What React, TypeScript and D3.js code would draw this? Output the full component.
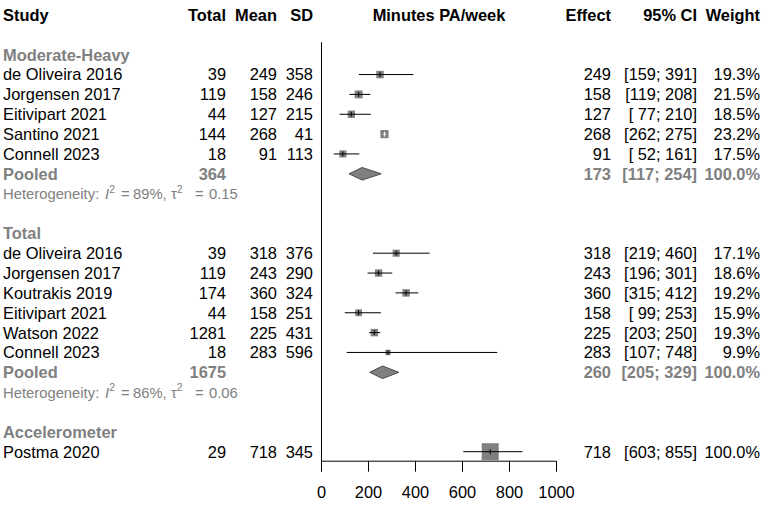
import React from "react";
import * as d3 from "d3";

// ---------- data ----------
const headers = ["Study", "Total", "Mean", "SD", "Minutes PA/week", "Effect", "95% CI", "Weight"];

const groupLabels = ["Moderate-Heavy", "Total", "Accelerometer"];

const mhStudies = ["de Oliveira 2016", "Jorgensen 2017", "Eitivipart 2021", "Santino 2021", "Connell 2023"];
const mhTotal = [39, 119, 44, 144, 18];
const mhMean = [249, 158, 127, 268, 91];
const mhSD = [358, 246, 215, 41, 113];
const mhLower = [159, 119, 77, 262, 52];
const mhUpper = [391, 208, 210, 275, 161];
const mhWeight = [19.3, 21.5, 18.5, 23.2, 17.5];
const mhPooled = { total: 364, effect: 173, lower: 117, upper: 254, weight: 100.0 };
const mhHet = { i2: "89%,", tau2: "0.15" };

const totStudies = ["de Oliveira 2016", "Jorgensen 2017", "Koutrakis 2019", "Eitivipart 2021", "Watson 2022", "Connell 2023"];
const totTotal = [39, 119, 174, 44, 1281, 18];
const totMean = [318, 243, 360, 158, 225, 283];
const totSD = [376, 290, 324, 251, 431, 596];
const totLower = [219, 196, 315, 99, 203, 107];
const totUpper = [460, 301, 412, 253, 250, 748];
const totWeight = [17.1, 18.6, 19.2, 15.9, 19.3, 9.9];
const totPooled = { total: 1675, effect: 260, lower: 205, upper: 329, weight: 100.0 };
const totHet = { i2: "86%,", tau2: "0.06" };

const accStudies = ["Postma 2020"];
const accTotal = [29];
const accMean = [718];
const accSD = [345];
const accLower = [603];
const accUpper = [855];
const accWeight = [100.0];

const xTicks = [0, 200, 400, 600, 800, 1000];

// ---------- layout ----------
const W = 762;
const H = 505;
const FONT = "Arial, 'Liberation Sans', Helvetica, sans-serif";
const FS = 16.4;
const HFS = 14.8;
const GRAY = "#808080";
const rowY = (i: number) => 15 + i * 19.85;
const base = (i: number) => rowY(i) + 5.9;

const x = d3.scaleLinear().domain([0, 1000]).range([321.5, 556.5]);

const colStudy = 3;
const colTotal = 226;
const colMean = 277;
const colSD = 313;
const colEffect = 611;
const colCI = 697;
const colWeight = 760;

const fmtCI = (l: number, u: number) => {
  const pad = (v: number) => (v < 100 ? " " + v : String(v));
  return `[${pad(l)}; ${u}]`;
};

type Study = { name: string; total: number; mean: number; sd: number; lower: number; upper: number; weight: number };

const zipStudies = (n: string[], t: number[], m: number[], s: number[], l: number[], u: number[], w: number[]): Study[] =>
  n.map((name, i) => ({ name, total: t[i], mean: m[i], sd: s[i], lower: l[i], upper: u[i], weight: w[i] }));

const groups = [
  { label: groupLabels[0], studies: zipStudies(mhStudies, mhTotal, mhMean, mhSD, mhLower, mhUpper, mhWeight), pooled: mhPooled, het: mhHet },
  { label: groupLabels[1], studies: zipStudies(totStudies, totTotal, totMean, totSD, totLower, totUpper, totWeight), pooled: totPooled, het: totHet },
  { label: groupLabels[2], studies: zipStudies(accStudies, accTotal, accMean, accSD, accLower, accUpper, accWeight), pooled: null, het: null },
];

const maxSide = 17;

export default function App() {
  const elems: React.ReactNode[] = [];
  let row = 2;
  let key = 0;
  const T = (props: any, txt: React.ReactNode) => (
    <text key={key++} fontFamily={FONT} fontSize={FS} style={{ whiteSpace: "pre" }} {...props}>
      {txt}
    </text>
  );

  // header
  const hb = base(0);
  elems.push(T({ x: colStudy, y: hb, fontWeight: "bold" }, headers[0]));
  elems.push(T({ x: colTotal, y: hb, fontWeight: "bold", textAnchor: "end" }, headers[1]));
  elems.push(T({ x: colMean, y: hb, fontWeight: "bold", textAnchor: "end" }, headers[2]));
  elems.push(T({ x: colSD, y: hb, fontWeight: "bold", textAnchor: "end" }, headers[3]));
  elems.push(T({ x: (x(0) + x(1000)) / 2, y: hb, fontWeight: "bold", textAnchor: "middle" }, headers[4]));
  elems.push(T({ x: colEffect, y: hb, fontWeight: "bold", textAnchor: "end" }, headers[5]));
  elems.push(T({ x: colCI, y: hb, fontWeight: "bold", textAnchor: "end" }, headers[6]));
  elems.push(T({ x: colWeight, y: hb, fontWeight: "bold", textAnchor: "end" }, headers[7]));

  const marks: React.ReactNode[] = [];

  groups.forEach((g) => {
    elems.push(T({ x: colStudy, y: base(row), fontWeight: "bold", fill: GRAY }, g.label));
    row++;
    g.studies.forEach((s) => {
      const b = base(row);
      const cy = rowY(row);
      elems.push(T({ x: colStudy, y: b }, s.name));
      elems.push(T({ x: colTotal, y: b, textAnchor: "end" }, s.total));
      elems.push(T({ x: colMean, y: b, textAnchor: "end" }, s.mean));
      elems.push(T({ x: colSD, y: b, textAnchor: "end" }, s.sd));
      elems.push(T({ x: colEffect, y: b, textAnchor: "end" }, s.mean));
      elems.push(T({ x: colCI, y: b, textAnchor: "end" }, fmtCI(s.lower, s.upper)));
      elems.push(T({ x: colWeight, y: b, textAnchor: "end" }, s.weight.toFixed(1) + "%"));
      const side = maxSide * Math.sqrt(s.weight / 100);
      const cx = x(s.mean);
      const inside = x(s.lower) >= cx - side / 2 && x(s.upper) <= cx + side / 2;
      const lc = inside ? "white" : "black";
      marks.push(<rect key={key++} x={cx - side / 2} y={cy - side / 2} width={side} height={side} fill={GRAY} />);
      marks.push(<line key={key++} x1={x(s.lower)} x2={x(s.upper)} y1={cy} y2={cy} stroke={lc} strokeWidth={1} />);
      marks.push(<line key={key++} x1={cx} x2={cx} y1={cy - 2.5} y2={cy + 2.5} stroke={lc} strokeWidth={1} />);
      row++;
    });
    if (g.pooled) {
      const p = g.pooled;
      const b = base(row);
      const cy = rowY(row);
      elems.push(T({ x: colStudy, y: b, fontWeight: "bold", fill: GRAY }, "Pooled"));
      elems.push(T({ x: colTotal, y: b, fontWeight: "bold", fill: GRAY, textAnchor: "end" }, p.total));
      elems.push(T({ x: colEffect, y: b, fontWeight: "bold", fill: GRAY, textAnchor: "end" }, p.effect));
      elems.push(T({ x: colCI, y: b, fontWeight: "bold", fill: GRAY, textAnchor: "end" }, fmtCI(p.lower, p.upper)));
      elems.push(T({ x: colWeight, y: b, fontWeight: "bold", fill: GRAY, textAnchor: "end" }, p.weight.toFixed(1) + "%"));
      const hh = 6.3;
      const pts = [
        [x(p.lower), cy],
        [x(p.effect), cy - hh],
        [x(p.upper), cy],
        [x(p.effect), cy + hh],
      ];
      marks.push(
        <polygon key={key++} points={pts.map((q) => q.join(",")).join(" ")} fill={GRAY} stroke="#4a4a4a" strokeWidth={1} />
      );
      row++;
    }
    if (g.het) {
      const b = base(row) - 0.3;
      elems.push(
        <text key={key++} fontFamily={FONT} fontSize={HFS} fill={GRAY} y={b} style={{ whiteSpace: "pre" }}>
          <tspan x={colStudy}>Heterogeneity:</tspan>
          <tspan x={105} fontStyle="italic">I</tspan>
          <tspan dy={-6.5} fontSize={10.5}>2</tspan>
          <tspan x={121} dy={6.5}>=</tspan>
          <tspan x={133}>{g.het.i2}</tspan>
          <tspan x={171}>τ</tspan>
          <tspan dy={-6.5} fontSize={10.5}>2</tspan>
          <tspan x={195} dy={6.5}>=</tspan>
          <tspan x={209}>{g.het.tau2}</tspan>
        </text>
      );
      row++;
      row++; // blank
    }
  });

  const axisY = rowY(22) + 9.5;
  const topY = rowY(2) - 12.5;

  return (
    <svg width={W} height={H} style={{ position: "absolute", left: 0, top: 0, background: "white" }}>
      <rect x={0} y={0} width={W} height={H} fill="white" />
      {elems}
      <line x1={x(0)} x2={x(0)} y1={topY} y2={axisY} stroke="black" strokeWidth={1} />
      {marks}
      <line x1={x(0)} x2={x(1000)} y1={axisY} y2={axisY} stroke="black" strokeWidth={1} />
      {xTicks.map((t) => (
        <g key={"t" + t}>
          <line x1={x(t)} x2={x(t)} y1={axisY} y2={axisY + 10.5} stroke="black" strokeWidth={1} />
          <text x={x(t)} y={axisY + 37} textAnchor="middle" fontFamily={FONT} fontSize={FS}>
            {t}
          </text>
        </g>
      ))}
    </svg>
  );
}
